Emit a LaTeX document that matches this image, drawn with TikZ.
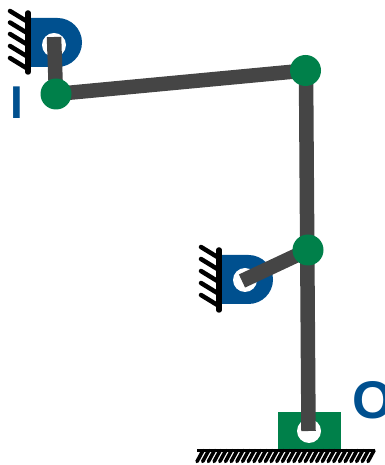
\documentclass[tikz,border=0pt]{standalone}
\usepackage{fontspec}
\setmainfont{Liberation Sans}
\definecolor{mechblue}{HTML}{00508F}
\definecolor{mechgreen}{HTML}{00804A}
\definecolor{linkgray}{HTML}{454545}
\tikzset{
    link/.style={draw=linkgray,line width=14.5pt},
    joint/.style={circle,fill=mechgreen,minimum size=31pt,inner sep=0pt},
    hole/.style={circle,fill=white,minimum size=24pt,inner sep=0pt},
    hatch/.style={line width=4.5pt,line cap=round},
    wall/.style={line width=5.5pt,line cap=round},
    letter/.style={text=mechblue,font=\bfseries,inner sep=0pt}
}
\begin{document}
\begin{tikzpicture}[x=1pt,y=1pt]
    \useasboundingbox (0,0) rectangle (384,465);
    \clip (0,0) rectangle (384,465);
    \coordinate (topend) at (54,428);
    \coordinate (midend) at (242,184);
    \coordinate (baseend) at (308.5,34);
    \coordinate (jointI) at (56,371);
    \coordinate (jointR) at (305.5,394.5);
    \coordinate (linktop) at (306,394.5);
    \coordinate (jointM) at (308,215);
    % upper bearing
    \fill[mechblue] (28,447) -- (57.5,447) arc[start angle=90,end angle=-90,radius=24.5] -- (28,398) -- cycle;
    \node[hole] (tophole) at (54,420) {};
    \foreach \y in {454,442.5,431,419,407} \draw[hatch] (10,\y) -- (28,\y-11);
    \draw[wall] (28,452) coordinate (topa) -- (28,393) coordinate (topb);
    % lower bearing
    \fill[mechblue] (219,210) -- (248.5,210) arc[start angle=90,end angle=-90,radius=24.5] -- (219,161) -- cycle;
    \node[hole] (midhole) at (245,185) {};
    \foreach \y in {218,206,194,182,170} \draw[hatch] (201,\y) -- (219,\y-11);
    \draw[wall] (219,215) coordinate (mida) -- (219,155) coordinate (midb);
    % ground
    \node[fill=mechgreen,minimum width=63pt,minimum height=37pt,inner sep=0pt] (block) at (309.5,34.5) {};
    \node[hole] (basehole) at (309,34) {};
    \foreach \x in {0,...,30} \draw[line width=3.6pt,line cap=round] (197+5.7*\x,3.5) -- (203+5.7*\x,14.5);
    \draw[line width=3.5pt] (197,14.5) coordinate (grounda) -- (374,14.5) coordinate (groundb);
    % links
    \draw[link] (topend) -- (jointI);
    \draw[link] (jointI) -- (jointR);
    \draw[link] (linktop) -- (baseend);
    \draw[link] (midend) -- (jointM);
    \node[joint] (nodeI) at (jointI) {};
    \node[joint] (nodeR) at (jointR) {};
    \node[joint] (nodeM) at (jointM) {};
    \node[letter,font=\fontsize{46pt}{46pt}\selectfont\bfseries,anchor=base west] (labelI) at (10.5,346) {I};
    \node[letter,font=\fontsize{53pt}{53pt}\selectfont\bfseries,anchor=base west] (labelO) at (352.5,46) {O};
\end{tikzpicture}
\end{document}
